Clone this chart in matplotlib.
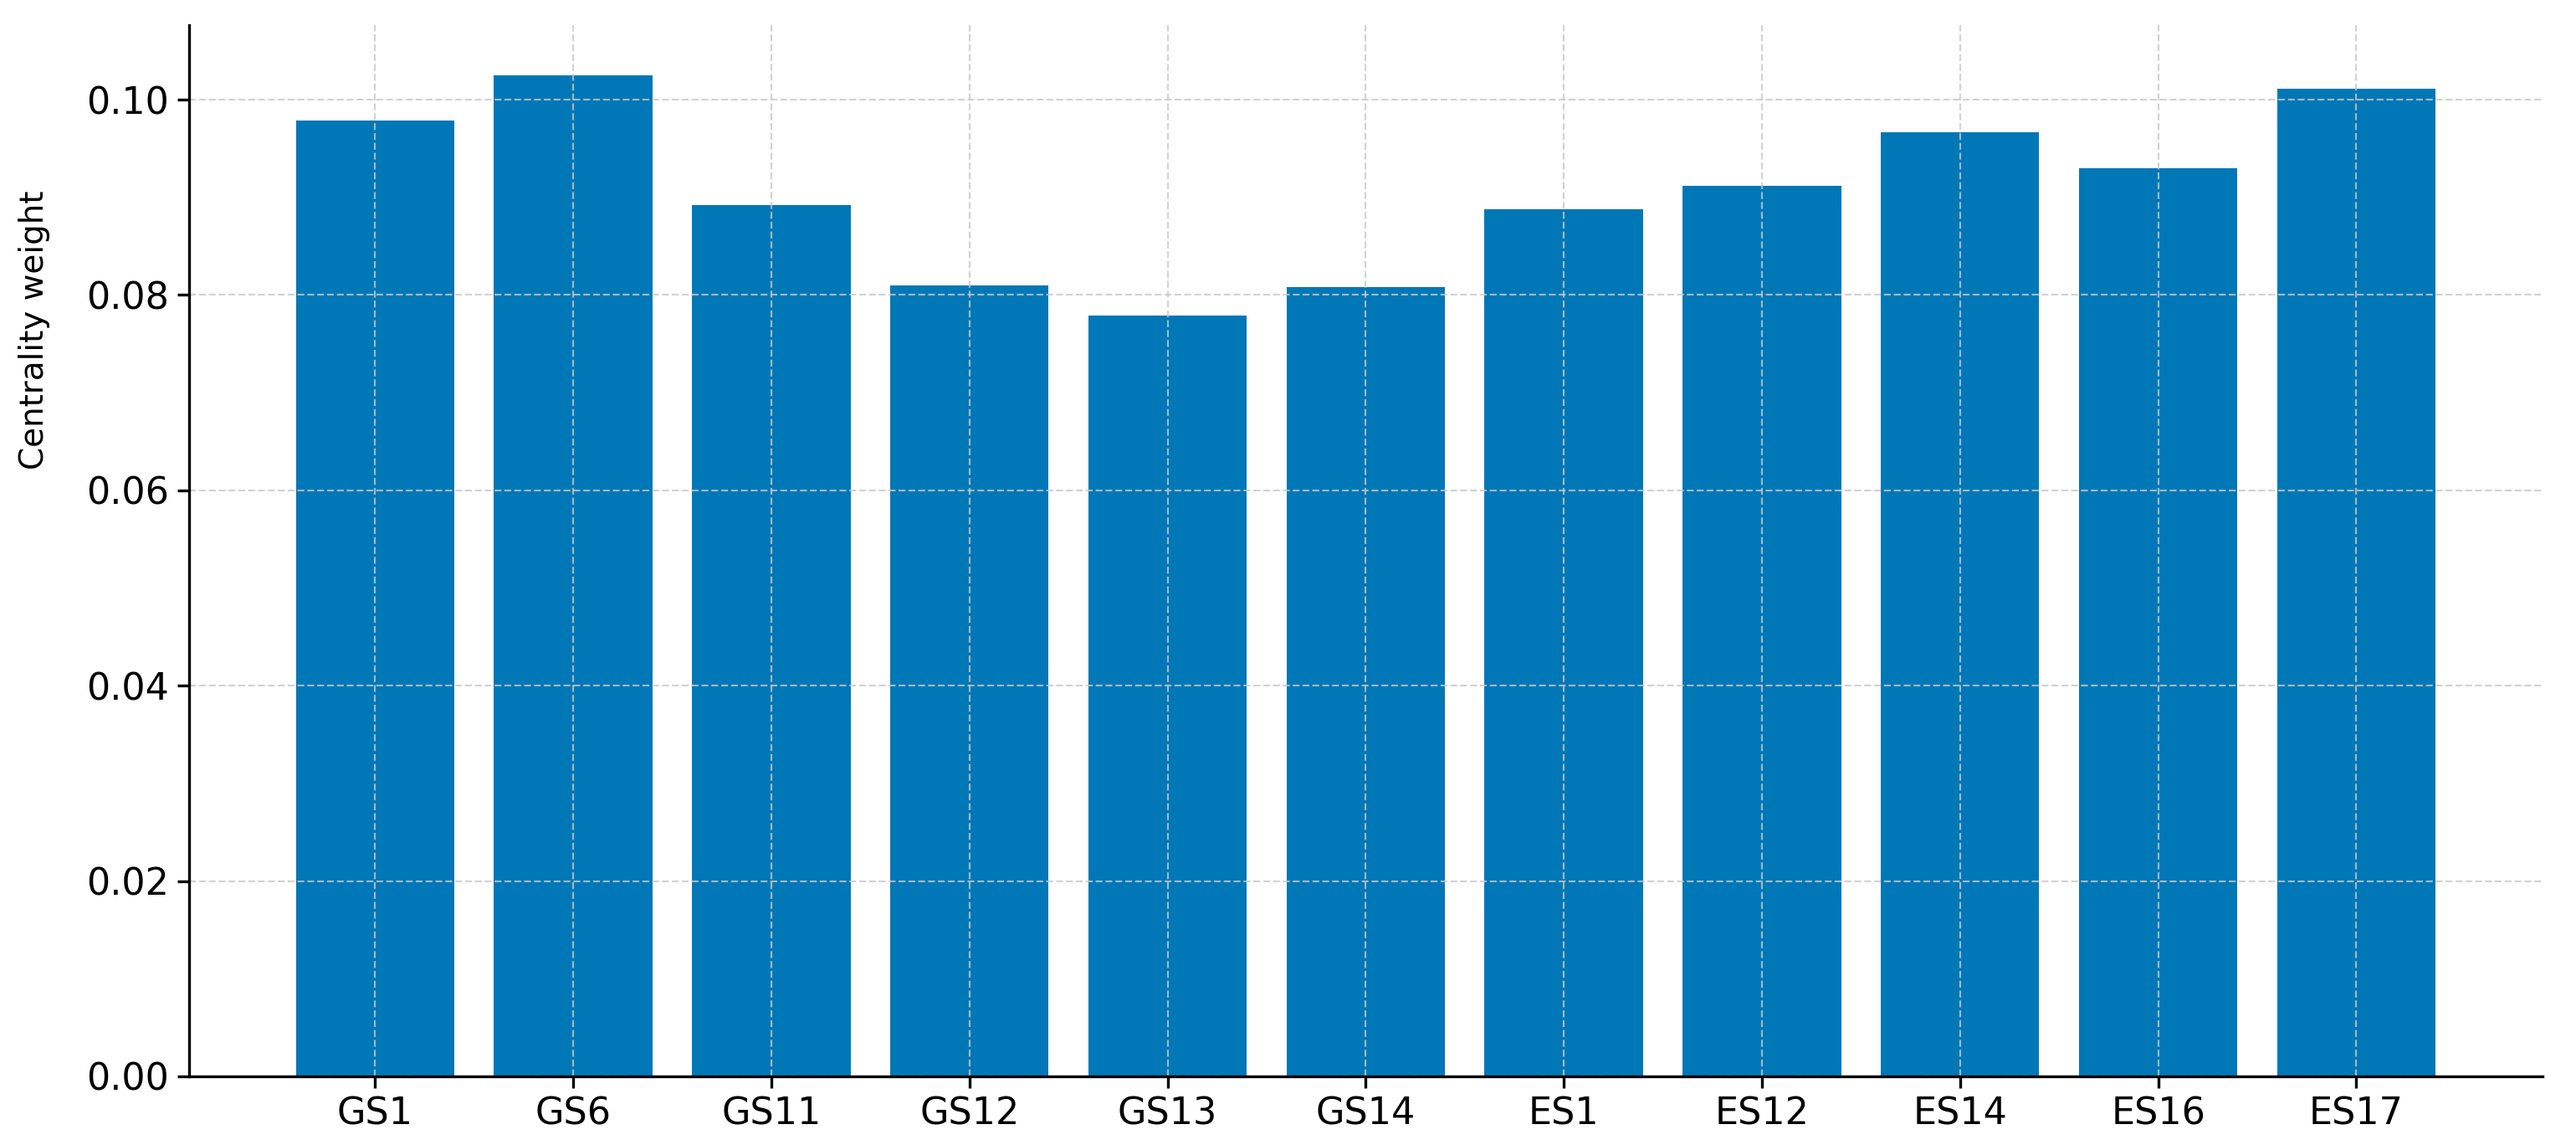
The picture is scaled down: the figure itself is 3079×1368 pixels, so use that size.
import numpy as np
import matplotlib.pyplot as plt

#%% data
labels = ['GS1', 'GS6', 'GS11', 'GS12', 'GS13', 'GS14', 'ES1', 'ES12', 'ES14', 'ES16', 'ES17']
weights = [0.0979, 0.1025, 0.0892, 0.0810, 0.0779, 0.0808, 0.0888, 0.0912, 0.0967, 0.0930, 0.1011]

#%% plot
fig, ax = plt.subplots(figsize=(15.395, 6.84), dpi=200)
fig.subplots_adjust(left=0.0733, right=0.987, bottom=0.060, top=0.978)

x = np.arange(len(labels))
ax.bar(x, weights, width=0.8, color='#0077b6')
ax.set_xticks(x)
ax.set_xticklabels(labels)
ax.set_ylabel('Centrality weight', fontsize=14)
ax.yaxis.set_label_coords(-0.059, 0.71)  # label sits high in the reference
ax.tick_params(axis='both', labelsize=16, length=5, width=1.2)

ax.grid(True, linestyle='--', linewidth=0.8, color='#c8c8c8', alpha=0.8)
ax.spines['top'].set_visible(False)
ax.spines['right'].set_visible(False)
ax.spines['left'].set_linewidth(1.2)
ax.spines['bottom'].set_linewidth(1.2)
ax.yaxis.set_major_formatter(plt.FormatStrFormatter('%.2f'))

plt.savefig('out.png', dpi=200)
